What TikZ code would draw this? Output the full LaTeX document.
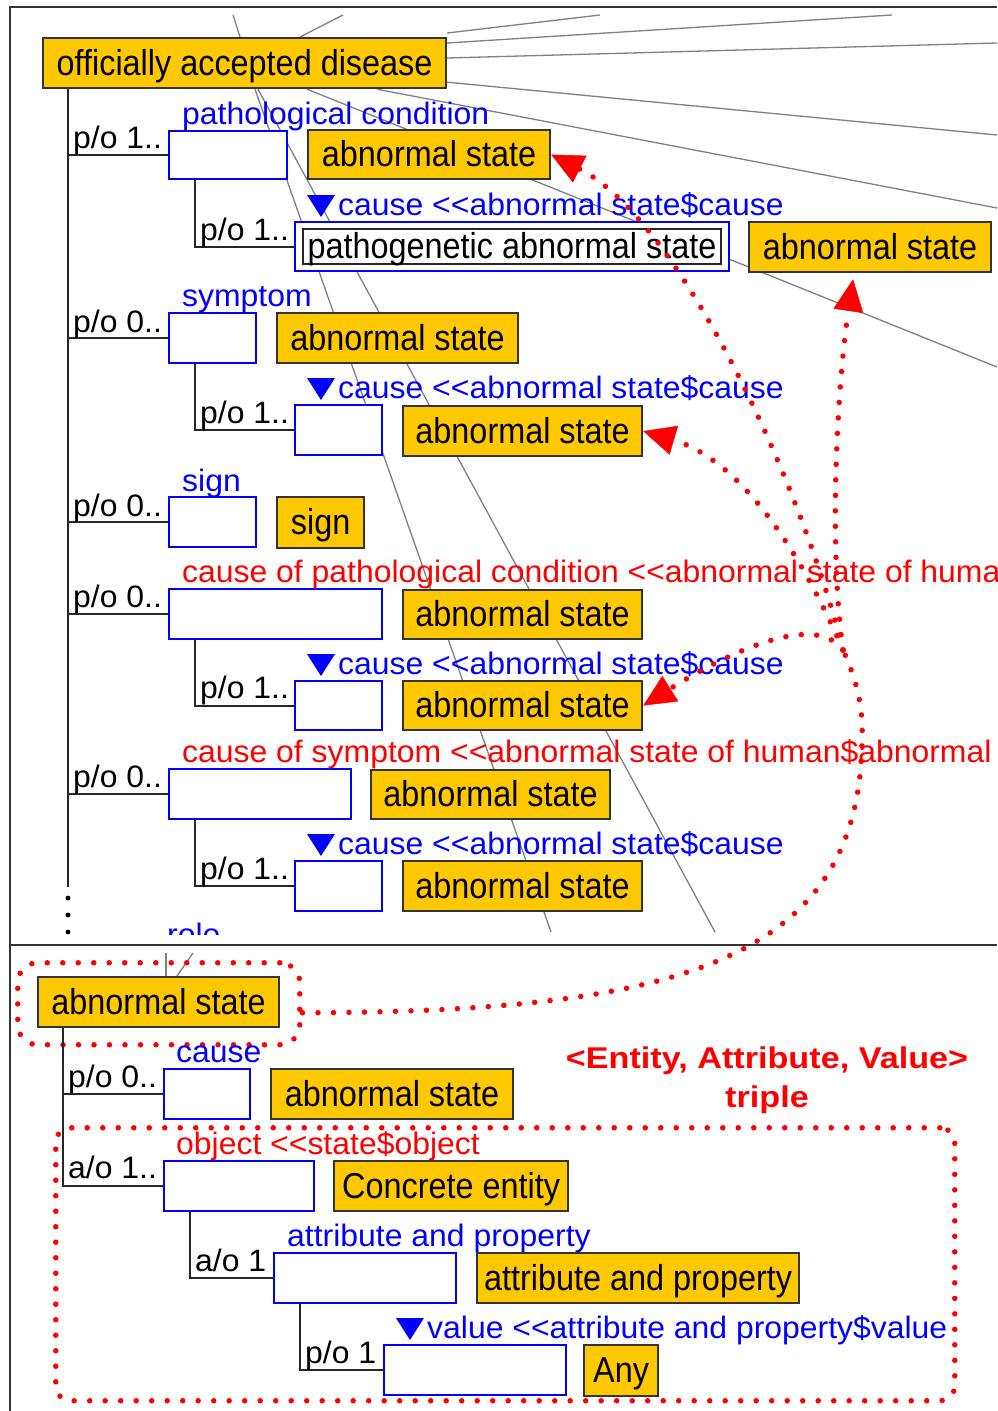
\documentclass[tikz,border=0pt]{standalone}
\usepackage{fontspec}
\setmainfont{Liberation Sans}
\newfontfamily\boxfont[FakeStretch=0.9]{Liberation Sans}
\newfontfamily\labfont[FakeStretch=1.03]{Liberation Sans}
\newfontfamily\notefont[FakeStretch=1.14]{Liberation Sans}
\usetikzlibrary{arrows.meta,calc}
\definecolor{javaorange}{RGB}{255,200,0}
\pgfdeclarelayer{background}
\pgfsetlayers{background,main}
% "<<" written so that the TeX ligature mapping does not turn it into a guillemet
\newcommand\dlt{<\kern0pt<}
% small blue down-pointing triangle in front of a role label
\newcommand\downtri[1]{\fill[blue] ($(#1.base west)+(-31,-20)$) -- ++(28,0) -- ++(-14,22) -- cycle;}
\begin{document}
\begin{tikzpicture}[x=1pt,y=-1pt,
  obox/.style={draw=black!80, line width=2.2pt, fill=javaorange, inner sep=0pt, anchor=north west,
    font=\boxfont\fontsize{36}{40}\selectfont, text height=27pt, text depth=3pt},
  bbox/.style={draw=blue, line width=2pt, fill=white, inner sep=0pt, anchor=north west},
  lab/.style={anchor=base west, inner sep=0pt, font=\labfont\fontsize{31}{34}\selectfont},
  bluelab/.style={lab, text=blue},
  redlab/.style={lab, text=red},
  notelab/.style={anchor=base, inner sep=0pt, text=red, font=\notefont\bfseries\fontsize{30}{34}\selectfont},
  tree/.style={draw=black!85, line width=2pt},
  link/.style={draw=gray, line width=1.3pt},
  frame/.style={draw=black!80, line width=2.5pt},
  reddots/.style={draw=red, line width=5.5pt, line cap=round, dash pattern=on 0pt off 15.5pt},
  hlbox/.style={reddots, rounded corners=20pt, inner sep=0pt, anchor=north west},
  redtip/.style={-{Triangle[length=32pt,width=30pt,line width=0.5pt]}}
]
\useasboundingbox (0,0) rectangle (997,1411);

% ---------- frame ----------
\draw[frame] (10,1411) -- (10,7) -- (997,7);
\draw[frame] (10,945) -- (997,945);

% ---------- upper panel: officially accepted disease ----------
\node[obox, minimum width=403pt, minimum height=50pt] (oad) at (42,37) {officially accepted disease};
\coordinate (t1) at ($(oad.south west)+(26,0)$);
\coordinate (trunkend) at (68,887);
\draw[tree] (t1) -- (trunkend);
\foreach \yy in {898,915,932} \fill (68,\yy) circle (2.4pt);

% pathological condition
\node[bbox, minimum width=118pt, minimum height=48pt] (pc) at (168,130) {};
\node[bluelab] (pcl) at (182,124) {pathological condition};
\node[lab] (pcm) at (73,148) {p/o 1..};
\draw[tree] (pc.west) -- (pc.west -| t1);
\node[obox, minimum width=242pt, minimum height=49pt] (as1) at (307,129) {abnormal state};

\node[bbox, minimum width=434pt, minimum height=49pt] (pg) at (294,221) {};
\node[draw=black!85, line width=2pt, fill=white, inner sep=0pt, anchor=north west,
  minimum width=418pt, minimum height=35pt, text height=27pt, text depth=3pt,
  font=\boxfont\fontsize{36}{40}\selectfont] (pgt) at (302,228) {pathogenetic abnormal state};
\draw[tree] ($(pc.south west)+(27,0)$) |- (pg.west);
\node[lab] (pgm) at (200,240) {p/o 1..};
\node[bluelab] (c1) at (338,215) {cause \dlt abnormal state\$cause};
\downtri{c1}
\node[obox, minimum width=242pt, minimum height=50pt] (as2) at (748,221) {abnormal state};

% symptom
\node[bbox, minimum width=87pt, minimum height=50pt] (sy) at (168,312) {};
\node[bluelab] (syl) at (182,306) {symptom};
\node[lab] (sym) at (73,332) {p/o 0..};
\draw[tree] (sy.west) -- (sy.west -| t1);
\node[obox, minimum width=241pt, minimum height=50pt] (as3) at (276,312) {abnormal state};
\node[bbox, minimum width=87pt, minimum height=50pt] (syc) at (294,404) {};
\draw[tree] ($(sy.south west)+(27,0)$) |- (syc.west);
\node[lab] (sycm) at (200,423) {p/o 1..};
\node[bluelab] (c2) at (338,398) {cause \dlt abnormal state\$cause};
\downtri{c2}
\node[obox, minimum width=239pt, minimum height=50pt] (as4) at (402,405) {abnormal state};

% sign
\node[bbox, minimum width=87pt, minimum height=50pt] (sg) at (168,496) {};
\node[bluelab] (sgl) at (182,491) {sign};
\node[lab] (sgm) at (73,516) {p/o 0..};
\draw[tree] (sg.west) -- (sg.west -| t1);
\node[obox, minimum width=87pt, minimum height=51pt] (sgv) at (276,496) {sign};

% cause of pathological condition
\node[bbox, minimum width=213pt, minimum height=50pt] (cp) at (168,588) {};
\node[lab] (cpm) at (73,607) {p/o 0..};
\draw[tree] (cp.west) -- (cp.west -| t1);
\node[obox, minimum width=239pt, minimum height=49pt] (as5) at (402,589) {abnormal state};
\node[bbox, minimum width=87pt, minimum height=49pt] (cpc) at (294,680) {};
\draw[tree] ($(cp.south west)+(27,0)$) |- (cpc.west);
\node[lab] (cpcm) at (200,698) {p/o 1..};
\node[bluelab] (c3) at (338,674) {cause \dlt abnormal state\$cause};
\downtri{c3}
\node[obox, minimum width=239pt, minimum height=49pt] (as6) at (402,680) {abnormal state};

% cause of symptom
\node[bbox, minimum width=182pt, minimum height=50pt] (cs) at (168,768) {};
\node[lab] (csm) at (73,787) {p/o 0..};
\draw[tree] (cs.west) -- (cs.west -| t1);
\node[obox, minimum width=239pt, minimum height=49pt] (as7) at (370,769) {abnormal state};
\node[bbox, minimum width=87pt, minimum height=50pt] (csc) at (294,860) {};
\draw[tree] ($(cs.south west)+(27,0)$) |- (csc.west);
\node[lab] (cscm) at (200,879) {p/o 1..};
\node[bluelab] (c4) at (338,854) {cause \dlt abnormal state\$cause};
\downtri{c4}
\node[obox, minimum width=239pt, minimum height=50pt] (as8) at (402,860) {abnormal state};

% long red role labels and the next role, cut by the panel edges
\begin{scope}
  \clip (0,0) rectangle (997,1411);
  \node[redlab] (cpl) at (182,582) {cause of pathological condition \dlt abnormal state of human\$abnormal state};
  \node[redlab] (csl) at (182,762) {cause of symptom \dlt abnormal state of human\$abnormal state};
\end{scope}
\begin{scope}
  \clip (150,918) rectangle (260,934);
  \node[bluelab] (rl) at (167,945) {role};
\end{scope}

% ---------- lower panel: abnormal state ----------
\node[obox, minimum width=241pt, minimum height=50pt] (abs) at (37,976) {abnormal state};
\node[hlbox, minimum width=282pt, minimum height=82pt] (hl1) at (15,960) {};
\coordinate (t2) at ($(abs.south west)+(26,0)$);

\node[bbox, minimum width=86pt, minimum height=50pt] (ca) at (163,1068) {};
\node[bluelab] (cal) at (176,1062) {cause};
\node[lab] (cam) at (68,1087) {p/o 0..};
\draw[tree] (ca.west) -- (ca.west -| t2);
\node[obox, minimum width=242pt, minimum height=50pt] (as9) at (270,1068) {abnormal state};

\node[bbox, minimum width=150pt, minimum height=50pt] (ob) at (163,1160) {};
\draw[tree] (t2) |- (ob.west);
\node[redlab] (obl) at (176,1154) {object \dlt state\$object};
\node[lab] (obm) at (68,1178) {a/o 1..};
\node[obox, minimum width=234pt, minimum height=50pt] (ce) at (333,1160) {Concrete entity};

\node[bbox, minimum width=182pt, minimum height=50pt] (at) at (273,1252) {};
\draw[tree] ($(ob.south west)+(27,0)$) |- (at.west);
\node[bluelab] (atl) at (287,1246) {attribute and property};
\node[lab] (atm) at (195,1271) {a/o 1};
\node[obox, minimum width=322pt, minimum height=50pt] (ap) at (476,1252) {attribute and property};

\node[bbox, minimum width=182pt, minimum height=50pt] (va) at (383,1344) {};
\draw[tree] ($(at.south west)+(27,0)$) |- (va.west);
\node[lab] (vam) at (305,1363) {p/o 1};
\node[bluelab] (val) at (427,1338) {value \dlt attribute and property\$value};
\downtri{val}
\node[obox, minimum width=74pt, minimum height=51pt] (any) at (583,1344) {Any};

\node[hlbox, rounded corners=15pt, minimum width=899pt, minimum height=273pt] (hl2) at (53,1125) {};
\node[notelab] (ent) at (767,1068) {<Entity, Attribute, Value>};
\node[notelab] (tri) at (767,1107) {triple};

% ---------- grey links leading out of view ----------
\coordinate (ga) at (233,15);
\coordinate (gb) at (343,15);
\coordinate (gc) at (600,15);
\coordinate (gd) at (892,15);
\coordinate (ge) at (997,43);
\coordinate (gf) at (997,135);
\coordinate (gg) at (997,208);
\coordinate (gh) at (997,367);
\coordinate (gi) at (551,932);
\coordinate (gj) at (715,932);
\coordinate (gk) at (166,953);
\coordinate (gl) at (193,953);
\begin{pgfonlayer}{background}
  \draw[link] ($(oad.north west)+(198,0)$) -- (ga);
  \draw[link] ($(oad.north west)+(258,0)$) -- (gb);
  \draw[link] ($(oad.north east)+(0,-4)$) -- (gc);
  \draw[link] ($(oad.north east)+(0,6)$) -- (gd);
  \draw[link] ($(oad.north east)+(0,21)$) -- (ge);
  \draw[link] ($(oad.south east)+(0,-7)$) -- (gf);
  \draw[link] ($(oad.south west)+(335,0)$) -- (gg);
  \draw[link] ($(oad.south west)+(265,0)$) -- (gh);
  \draw[link] ($(oad.south west)+(213,0)$) -- (gi);
  \draw[link] ($(oad.south west)+(216,0)$) -- (gj);
  \draw[link] ($(abs.north west)+(129,0)$) -- (gk);
  \draw[link] ($(abs.north west)+(140,0)$) -- (gl);
\end{pgfonlayer}

% ---------- dotted references from the highlighted concept ----------
\coordinate (bend) at (862,740);
\coordinate (hub) at (843,650);
\draw[reddots] ($(hl1.east)+(0,9)$) .. controls (680,1012) and (860,960) .. (bend)
  .. controls (864,700) and (852,670) .. (hub);
\draw[reddots, redtip] (hub) .. controls (828,540) and (838,380) .. ($(as2.south)+(-17,6)$);
\draw[reddots, redtip] (hub) .. controls (800,480) and (680,220) .. (as1.east);
\draw[reddots, redtip] (hub) .. controls (800,550) and (740,460) .. (as4.east);
\draw[reddots, redtip] (hub) .. controls (810,605) and (700,670) .. (as6.east);
\end{tikzpicture}
\end{document}
